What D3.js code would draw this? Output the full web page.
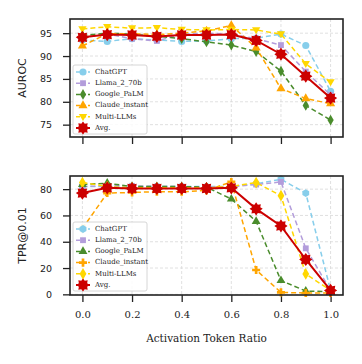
<!DOCTYPE html>
<html>
<head>
<meta charset="utf-8">
<script src="https://cdn.jsdelivr.net/npm/d3@7"></script>
<style>
  body { margin: 0; background: #fff; }
  .tick text { fill: #222; }
</style>
</head>
<body>
<script>
const width = 362;
const height = 364;

// x values shared by both panels
const ratios = [0.0, 0.1, 0.2, 0.3, 0.4, 0.5, 0.6, 0.7, 0.8, 0.9, 1.0];
const xTicks = [0.0, 0.2, 0.4, 0.6, 0.8, 1.0];
const seriesNames = ["ChatGPT", "Llama_2_70b", "Google_PaLM", "Claude_instant", "Multi-LLMs", "Avg."];

// AUROC (top panel)
const aurocChatGPT = [93.5, 93.2, 93.8, 93.5, 93.2, 93.3, 93.8, 93.9, 94.8, 92.3, 82.3];
const aurocLlama = [94.0, 94.8, 93.8, 93.3, 94.8, 95.0, 94.8, 93.8, 92.4, 86.6, 81.5];
const aurocPalm = [94.5, 95.0, 94.8, 94.3, 93.8, 93.1, 92.4, 91.0, 86.7, 79.2, 76.0];
const aurocClaude = [92.2, 94.9, 94.9, 94.7, 95.0, 95.5, 96.7, 91.8, 82.9, 80.7, 79.6];
const aurocMulti = [95.9, 96.4, 96.1, 96.2, 95.8, 95.7, 95.8, 95.7, 94.8, 88.3, 84.3];
const aurocAvg = [94.1, 94.7, 94.6, 94.3, 94.6, 94.6, 94.7, 93.4, 90.4, 85.6, 80.8];
const aurocTicks = [75, 80, 85, 90, 95];

// TPR@0.01 (bottom panel)
const tprChatGPT = [82, 82, 82, 82, 82, 82, 82, 84, 87.5, 77, 3];
const tprLlama = [82, 82.5, 82.5, 82, 82, 81.5, 82, 83.5, 85.5, 35, 3];
const tprPalm = [83.5, 84.5, 82, 82, 82, 81.5, 72.5, 55.5, 10.5, 2.5, 2];
const tprClaude = [50, 77, 77.5, 78, 78, 79, 85.5, 18.5, 1.5, 1, 1];
const tprMulti = [85, 82, 81, 81, 81, 81, 82, 85, 75, 15.5, 3];
const tprAvg = [77, 81, 80.5, 80.5, 80.5, 80.5, 81, 65, 52, 26.5, 3];
const tprTicks = [0, 20, 40, 60, 80];

const colors = ["#87ceeb", "#b39ddb", "#4a8c2c", "#ffa500", "#ffd700", "#cc0000"];

// custom marker shapes
function polygonSymbol(n, rot) {
  return {
    draw(ctx, size) {
      const r = Math.sqrt(size / Math.PI) * 1.1;
      for (let i = 0; i < n; i++) {
        const a = rot + i * 2 * Math.PI / n;
        if (i === 0) ctx.moveTo(r * Math.cos(a), r * Math.sin(a));
        else ctx.lineTo(r * Math.cos(a), r * Math.sin(a));
      }
      ctx.closePath();
    }
  };
}
const symbolTriDown = {
  draw(ctx, size) {
    const r = Math.sqrt(size / 1.3);
    ctx.moveTo(0, r * 0.75);
    ctx.lineTo(r * 0.75, -r * 0.5);
    ctx.lineTo(-r * 0.75, -r * 0.5);
    ctx.closePath();
  }
};
const symbolStar8 = {
  draw(ctx, size) {
    const r = Math.sqrt(size / Math.PI) * 1.2, ri = r * 0.68;
    for (let i = 0; i < 16; i++) {
      const a = -Math.PI / 2 + i * Math.PI / 8;
      const rr = i % 2 ? ri : r;
      if (i === 0) ctx.moveTo(rr * Math.cos(a), rr * Math.sin(a));
      else ctx.lineTo(rr * Math.cos(a), rr * Math.sin(a));
    }
    ctx.closePath();
  }
};
const symbolHex = polygonSymbol(6, Math.PI / 6);

const topMarkers = [d3.symbolCircle, d3.symbolSquare, d3.symbolDiamond, d3.symbolTriangle, symbolTriDown, symbolStar8];
const bottomMarkers = [symbolHex, d3.symbolSquare, d3.symbolTriangle, d3.symbolCross, d3.symbolDiamond, symbolStar8];
const markerSizes = [40, 34, 34, 36, 40, 95];

const svg = d3.select("body")
  .append("svg")
  .attr("width", width)
  .attr("height", height)
  .style("font-family", "DejaVu Sans");

const x = d3.scaleLinear().domain([-0.05, 1.05]).range([70, 343]);

function drawPanel(opts) {
  const y = d3.scaleLinear().domain(opts.yDomain).range([opts.bottom, opts.top]);
  const g = svg.append("g");

  // grid
  g.selectAll("line.vgrid")
    .data(xTicks)
    .enter().append("line")
    .attr("x1", d => x(d)).attr("x2", d => x(d))
    .attr("y1", opts.top).attr("y2", opts.bottom)
    .attr("stroke", "#d8d8d8").attr("stroke-width", 0.8)
    .attr("stroke-dasharray", "3,2");
  g.selectAll("line.hgrid")
    .data(opts.yTicks)
    .enter().append("line")
    .attr("x1", 70).attr("x2", 343)
    .attr("y1", d => y(d)).attr("y2", d => y(d))
    .attr("stroke", "#d8d8d8").attr("stroke-width", 0.8)
    .attr("stroke-dasharray", "3,2");

  // axes
  const yAxis = g.append("g")
    .attr("transform", "translate(70,0)")
    .call(d3.axisLeft(y).tickValues(opts.yTicks).tickSize(7).tickPadding(11));
  yAxis.select(".domain").remove();
  yAxis.selectAll("text").style("font-size", "9.5px").style("font-family", "DejaVu Sans");
  yAxis.selectAll("line").attr("stroke", "#222").attr("stroke-width", 1.3);

  const xAxis = g.append("g")
    .attr("transform", "translate(0," + opts.bottom + ")")
    .call(d3.axisBottom(x).tickValues(xTicks).tickSize(7).tickPadding(9)
      .tickFormat(opts.showX ? d3.format(".1f") : ""));
  xAxis.select(".domain").remove();
  xAxis.selectAll("text").style("font-size", "10px").style("font-family", "DejaVu Serif");
  xAxis.selectAll("line").attr("stroke", "#222").attr("stroke-width", 1.3);

  // series
  const line = d3.line().x((d, i) => x(ratios[i])).y(d => y(d));
  opts.series.forEach((vals, k) => {
    const isAvg = k === 5;
    g.append("path")
      .datum(vals)
      .attr("fill", "none")
      .attr("stroke", colors[k])
      .attr("stroke-width", isAvg ? 2 : 1.5)
      .attr("stroke-dasharray", isAvg ? null : "5,3")
      .attr("d", line);
    g.selectAll("path.m" + k)
      .data(vals)
      .enter().append("path")
      .attr("class", "m" + k)
      .attr("transform", (d, i) => "translate(" + x(ratios[i]) + "," + y(d) + ")")
      .attr("d", d3.symbol().type(opts.markers[k]).size(markerSizes[k]))
      .attr("fill", colors[k]);
  });

  // frame
  g.append("rect")
    .attr("x", 70).attr("y", opts.top)
    .attr("width", 273).attr("height", opts.bottom - opts.top)
    .attr("fill", "none").attr("stroke", "#222").attr("stroke-width", 1.6);

  // y label
  g.append("text")
    .attr("transform", "translate(23," + ((opts.top + opts.bottom) / 2) + ")rotate(-90)")
    .attr("text-anchor", "middle")
    .attr("dominant-baseline", "middle")
    .style("font-size", "11px")
    .style("fill", "#222")
    .text(opts.yLabel);

  // legend
  const lg = g.append("g").attr("transform", "translate(73," + opts.legendTop + ")");
  lg.append("rect")
    .attr("width", 74).attr("height", 69).attr("rx", 2)
    .attr("fill", "white").attr("fill-opacity", 0.85)
    .attr("stroke", "#cccccc").attr("stroke-width", 0.8);
  seriesNames.forEach((name, k) => {
    const ly = 7 + k * 11.2;
    lg.append("line")
      .attr("x1", 3).attr("x2", 17).attr("y1", ly).attr("y2", ly)
      .attr("stroke", colors[k])
      .attr("stroke-width", k === 5 ? 2 : 1.5)
      .attr("stroke-dasharray", k === 5 ? null : "4,2");
    lg.append("path")
      .attr("transform", "translate(10," + ly + ")")
      .attr("d", d3.symbol().type(opts.markers[k]).size(markerSizes[k]))
      .attr("fill", colors[k]);
    lg.append("text")
      .attr("x", 22).attr("y", ly)
      .attr("dominant-baseline", "middle")
      .style("font-family", "DejaVu Serif")
      .style("font-size", "7px")
      .style("fill", "#222")
      .text(name);
  });
}

drawPanel({
  top: 19, bottom: 137, yDomain: [72.3, 98.1], yTicks: aurocTicks, yLabel: "AUROC",
  series: [aurocChatGPT, aurocLlama, aurocPalm, aurocClaude, aurocMulti, aurocAvg],
  markers: topMarkers, legendTop: 65, showX: false
});

drawPanel({
  top: 176, bottom: 295, yDomain: [-0.5, 90], yTicks: tprTicks, yLabel: "TPR@0.01",
  series: [tprChatGPT, tprLlama, tprPalm, tprClaude, tprMulti, tprAvg],
  markers: bottomMarkers, legendTop: 222, showX: true
});

svg.append("text")
  .attr("x", 206.5).attr("y", 339)
  .attr("text-anchor", "middle")
  .attr("dominant-baseline", "middle")
  .style("font-family", "DejaVu Serif")
  .style("font-size", "10.5px")
  .style("fill", "#222")
  .text("Activation Token Ratio");
</script>
</body>
</html>
